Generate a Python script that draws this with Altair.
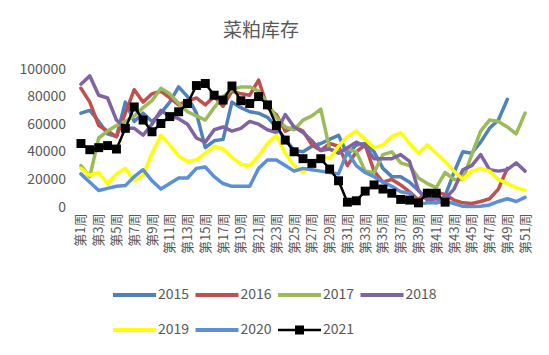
import altair as alt
import pandas as pd

weeks = [f"第{i}周" for i in range(1, 52)]
tick_weeks = weeks[::2]
years = ["2015", "2016", "2017", "2018", "2019", "2020", "2021"]
colors = ["#4F81BD", "#C0504D", "#9BBB59", "#8064A2", "#FFFF00", "#5B8FD6", "#000000"]

s2015 = [68000, 70000, 62000, 53000, 51000, 76000, 62000, 68000, 62000, 68000,
         76000, 87000, 80000, 68000, 43000, 48000, 49000, 76000, 72000, 69000,
         68000, 65000, 58000, 49000, 41000, 40000, 44000, 46000, 49000, 52000,
         38000, 45000, 46000, 40000, 28000, 22000, 22000, 18000, 12000, 5000,
         3000, 8000, 25000, 40000, 39000, 47000, 57000, 63000, 78000]
s2016 = [86000, 76000, 59000, 55000, 51000, 68000, 85000, 76000, 82000, 84000,
         79000, 74000, 77000, 79000, 74000, 80000, 73000, 84000, 82000, 81000,
         92000, 72000, 67000, 55000, 58000, 55000, 45000, 41000, 46000, 44000,
         30000, 40000, 45000, 26000, 18000, 20000, 16000, 11000, 5000, 12000,
         11000, 9000, 5000, 3000, 2500, 4000, 6000, 13000, 28000]
s2017 = [30000, 22000, 50000, 55000, 59000, 62000, 66000, 72000, 77000, 86000,
         82000, 75000, 69000, 66000, 63000, 72000, 80000, 85000, 87000, 87000,
         84000, 75000, 65000, 58000, 56000, 63000, 66000, 71000, 42000, 40000,
         42000, 40000, 26000, 25000, 38000, 40000, 32000, 30000, 21000, 17000,
         14000, 25000, 20000, 20000, 38000, 55000, 63000, 62000, 58000, 53000,
         68000]
s2018 = [89000, 95000, 81000, 79000, 63000, 57000, 57000, 52000, 60000, 70000,
         66000, 64000, 60000, 50000, 47000, 56000, 58000, 55000, 57000, 62000,
         60000, 56000, 54000, 67000, 58000, 54000, 48000, 41000, 42000, 39000,
         43000, 47000, 44000, 35000, 35000, 35000, 38000, 33000, 12000, 5000,
         6000, 6000, 13000, 27000, 30000, 38000, 27000, 26000, 27000, 32000,
         26000]
s2019 = [28000, 23000, 25000, 17000, 24000, 28000, 19000, 23000, 39000, 52000,
         45000, 37000, 33000, 34000, 39000, 44000, 42000, 36000, 31000, 30000,
         37000, 46000, 52000, 39000, 30000, 25000, 30000, 37000, 35000, 44000,
         51000, 55000, 49000, 43000, 45000, 51000, 54000, 46000, 39000, 45000,
         39000, 33000, 26000, 20000, 26000, 28000, 26000, 20000, 17000, 14000,
         12000]
s2020 = [24000, 18000, 12000, 13500, 15000, 15500, 22000, 27000, 19000, 13000,
         17000, 21000, 21000, 28000, 29000, 22000, 17000, 15000, 15000, 15000,
         28000, 34000, 34000, 30000, 26000, 28000, 27000, 26000, 25000, 24000,
         40000, 30000, 25000, 22000, 18000, 15000, 11000, 10000, 2000, 3000,
         3000, 4000, 2500, 500, 300, 500, 1500, 4000, 6000, 4000,
         7000]
s2021 = [46000, 41500, 43000, 44500, 42000, 57000, 72500, 63000, 54500, 60500,
         65500, 69000, 75000, 88000, 89500, 81000, 77500, 87700, 77000, 75000,
         80000, 74000, 59000, 48500, 40000, 35000, 31600, 35000, 27500, 19000,
         3500, 4500, 11500, 16000, 13000, 10000, 5500, 5000, 3000, 10000,
         10000, 3500]

series = {"2015": s2015, "2016": s2016, "2017": s2017, "2018": s2018,
          "2019": s2019, "2020": s2020, "2021": s2021}

rows = []
for yr, vals in series.items():
    for i, v in enumerate(vals):
        rows.append({"week": weeks[i], "year": yr, "value": v, "idx": i})
df = pd.DataFrame(rows)

FONT = "Noto Sans CJK SC"
GRAY = "#595959"

x = alt.X("week:O", sort=weeks, title=None,
          scale=alt.Scale(domain=weeks, padding=0.5),
          axis=alt.Axis(values=tick_weeks, labelAngle=-90, labelAlign="right",
                        labelBaseline="middle", labelFontSize=13, labelColor=GRAY,
                        labelFont=FONT, ticks=False, domain=False, grid=False,
                        labelPadding=6, labelOverlap=False))
y = alt.Y("value:Q", title=None,
          scale=alt.Scale(domain=[0, 100000]),
          axis=alt.Axis(values=[0, 20000, 40000, 60000, 80000, 100000], format="d",
                        labelFontSize=14, labelColor=GRAY, labelFont=FONT,
                        ticks=False, domain=False, grid=False, labelPadding=11))

shape_expr = ("datum.value === '2021' ? "
              "'M-4.3,0H4.3M-0.65,-0.65H0.65V0.65H-0.65ZM-0.3,-0.3H0.3V0.3H-0.3Z' "
              ": 'M-4.3,0H4.3'")
legend = alt.Legend(
    title=None, orient="none", legendX=51, legendY=219, direction="horizontal",
    columns=4, symbolType={"expr": shape_expr}, symbolSize=100,
    symbolStrokeWidth={"expr": "datum.value === '2021' ? 2.5 : 4"},
    labelOffset=16.5, columnPadding=-2.5, rowPadding=18, labelFontSize=14,
    labelColor=GRAY, labelFont=FONT, labelLimit=80)

color = alt.Color("year:N", scale=alt.Scale(domain=years, range=colors), legend=legend)

base = alt.Chart(df)
lines = base.transform_filter("datum.year !== '2021'").mark_line(
    strokeWidth=3.5, strokeJoin="round", strokeCap="round"
).encode(x=x, y=y, color=color, order="idx:Q")

line21 = base.transform_filter("datum.year === '2021'").mark_line(
    strokeWidth=2.5, strokeJoin="round"
).encode(x=x, y=y, color=color, order="idx:Q")

pts21 = base.transform_filter("datum.year === '2021'").mark_square(
    size=80, filled=True, color="#000000", opacity=1
).encode(x=x, y=y)

chart = alt.layer(lines, line21, pts21).properties(
    width=453, height=138,
    autosize=alt.AutoSizeParams(type="none"),
    padding={"left": 68.5, "top": 61, "right": 11.5, "bottom": 136},
    title=alt.TitleParams("菜粕库存", fontSize=19, color=GRAY, font=FONT,
                          fontWeight="normal", anchor="middle", dx=-42, offset=21),
).configure_view(stroke=None)

chart.save("out.html", embed_options={"renderer": "svg", "actions": False})
